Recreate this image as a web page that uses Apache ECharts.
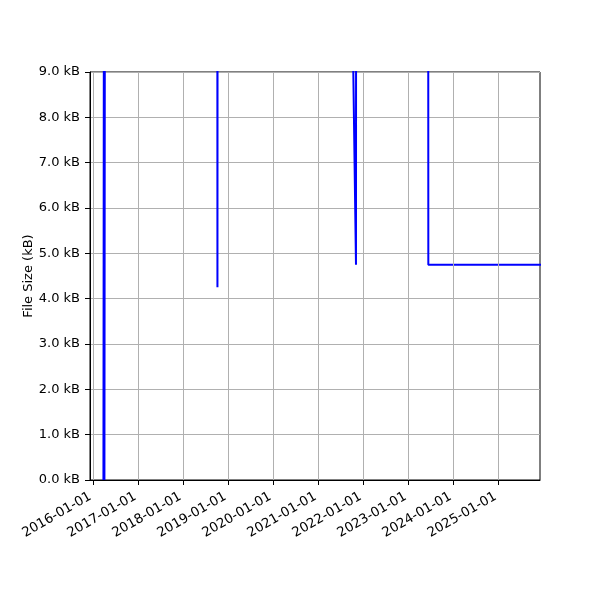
<!DOCTYPE html>
<html>
<head>
<meta charset="utf-8">
<script src="https://cdn.jsdelivr.net/npm/echarts@6/dist/echarts.min.js"></script>
<style>html,body{margin:0;padding:0;background:#fff}#c{width:600px;height:600px}</style>
</head>
<body>
<div id="c"></div>
<script>
// Data (file size in kB over time); values above 9 kB are clipped by the axis
var dates = ['2016-03-26','2016-03-30','2016-04-03','2016-04-07',
             '2018-10-06','2018-10-07','2018-10-08',
             '2021-09-28','2021-11-04','2021-11-05',
             '2023-06-13','2023-06-14','2025-12-31'];
var sizes = [0, 12, 0, 12,
             12, 4.25, 12,
             12, 4.75, 12,
             12, 4.75, 4.75];
var xTicks = ['2016-01-01','2017-01-01','2018-01-01','2019-01-01','2020-01-01',
              '2021-01-01','2022-01-01','2023-01-01','2024-01-01','2025-01-01'];
var xMin = '2015-12-08', xMax = '2025-12-06';
var yMin = 0, yMax = 9, yStep = 1;

function T(d){ var p = d.split('-'); return Date.UTC(+p[0], +p[1]-1, +p[2]); }
function fmt(v){
  var d = new Date(v);
  function z(n){ return (n < 10 ? '0' : '') + n; }
  return d.getUTCFullYear() + '-' + z(d.getUTCMonth()+1) + '-' + z(d.getUTCDate());
}
var tickVals = xTicks.map(T);
var seriesData = dates.map(function(d, i){ return [T(d), sizes[i]]; });
var FONT = 'DejaVu Sans';

var chart = echarts.init(document.getElementById('c'), null, {renderer: 'canvas'});
chart.setOption({
  animation: false,
  backgroundColor: '#fff',
  grid: {left: 90, right: 60, top: 72, bottom: 120, show: true,
         borderColor: '#000', borderWidth: 1, backgroundColor: 'transparent'},
  xAxis: {
    type: 'value', min: T(xMin), max: T(xMax), scale: true,
    axisLine: {show: true, onZero: false, lineStyle: {color: '#000', width: 1}},
    axisTick: {show: true, inside: false, length: 5, lineStyle: {color: '#000'}, customValues: tickVals},
    axisLabel: {show: true, rotate: 30, margin: 14, padding: [0, 3, 0, 0], color: '#000',
                fontFamily: FONT, fontSize: 13.3,
                customValues: tickVals, hideOverlap: false, formatter: fmt},
    splitLine: {show: false}
  },
  yAxis: {
    type: 'value', min: yMin, max: yMax, interval: yStep,
    name: 'File Size (kB)', nameLocation: 'middle', nameGap: 55, nameMoveOverlap: false,
    nameTextStyle: {color: '#000', fontFamily: FONT, fontSize: 13},
    axisLine: {show: true, lineStyle: {color: '#000', width: 1}},
    axisTick: {show: true, inside: false, length: 5, lineStyle: {color: '#000'}},
    axisLabel: {margin: 10, color: '#000', fontFamily: FONT, fontSize: 13,
                formatter: function(v){ return v.toFixed(1) + ' kB'; }},
    splitLine: {show: true, lineStyle: {color: '#b0b0b0', width: 1}}
  },
  series: [
    {
      type: 'line', data: [], z: 1, silent: true,
      markLine: {
        silent: true, symbol: ['none','none'], label: {show: false},
        lineStyle: {color: '#b0b0b0', width: 1, type: 'solid'},
        data: tickVals.map(function(v){ return {xAxis: v}; })
      }
    },
    {
      type: 'line', data: seriesData, z: 3, showSymbol: false, symbol: 'none',
      clip: true,
      lineStyle: {color: '#0000ff', width: 2},
      itemStyle: {color: '#0000ff'}
    }
  ]
});
</script>
</body>
</html>
